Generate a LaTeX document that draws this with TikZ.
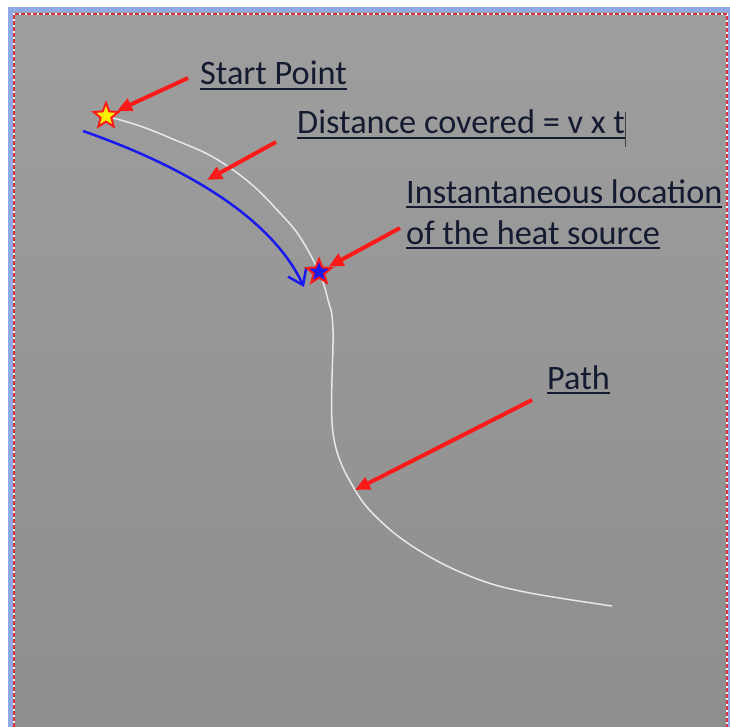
\documentclass[tikz,border=0pt]{standalone}
\usepackage{fontspec}
\setmainfont{Carlito}
\usetikzlibrary{arrows.meta, shapes.geometric}
\definecolor{cred}{HTML}{FF1A1A}
\definecolor{cblue}{HTML}{1A1AF0}
\definecolor{cframe}{HTML}{90A8E4}
\definecolor{cdot}{HTML}{E0303C}
\definecolor{bgtop}{HTML}{9E9E9E}
\definecolor{bgbot}{HTML}{8E8E8E}
\definecolor{ctext}{HTML}{141A30}
\definecolor{cyel}{HTML}{FFF000}
\definecolor{cpath}{HTML}{E8E8E8}

\newcommand{\ulbl}[1]{\setbox0\hbox{#1}\rlap{\rule[-5pt]{\wd0}{2pt}}\box0}

\tikzset{
  redarrow/.style={-{Triangle[length=15pt,width=13pt]}, cred, line width=4pt},
  lbl/.style={anchor=base west, inner sep=0pt, text=ctext, font=\fontsize{34.3}{41}\selectfont, align=left},
  srcstar/.style={star, star points=5, star point ratio=2.3, minimum size=26pt, inner sep=0pt, draw=cred, line width=2pt}
}

\begin{document}
\begin{tikzpicture}[x=1pt, y=-1pt]
  \useasboundingbox (0,0) rectangle (730,727);

  % Window frame and grey canvas
  \fill[white] (0,0) rectangle (730,727);
  \fill[cframe] (8,7) rectangle (730,727);
  \shade[top color=bgtop, bottom color=bgbot] (13,13) rectangle (728,727);
  \draw[white, line width=2pt] (14,727) -- (14,14) -- (727,14) -- (727,727);
  \draw[cdot, line width=2pt, dash pattern=on 4pt off 2pt] (14,727) -- (14,14) -- (727,14) -- (727,727);

  % Path of the heat source
  \draw[cpath, line width=1.5pt] plot[smooth, tension=0.6] coordinates {
    (106,116) (140,126) (175,140) (213,157) (250,183) (280,213) (300,237)
    (319,272) (328,300) (333,330) (333,433) (355,490) (387,527) (430,557)
    (480,580) (530,593) (612,606)};
  \coordinate (pathpt) at (355,490);

  % Distance covered
  \coordinate (arcstart) at (83,131);
  \coordinate (arcend) at (304,287);
  \coordinate (distpt) at (207,180);
  \draw[cblue, line width=2.5pt, -{Straight Barb[length=14pt,width=20pt]}]
    (arcstart) .. controls (180,165) and (270,215) .. (arcend);

  % Stars
  \node[srcstar, fill=cyel] (startstar) at (106,116) {};
  \node[srcstar, fill=cblue] (heatstar) at (319,272) {};

  % Labels
  \node[lbl] (startlbl) at (200,85) {\ulbl{Start Point}};
  \node[lbl] (distlbl) at (297,134) {\ulbl{Distance covered = v x t}\textcolor{darkgray}{\rule[-13pt]{1pt}{35pt}}};
  \node[lbl] (heatlbl) at (406,244) {\ulbl{Instantaneous location}\\\ulbl{of the heat source}};
  \node[lbl] (pathlbl) at (547,389) {\ulbl{Path}};

  % Red pointers
  \coordinate (starttail) at (188,78);
  \coordinate (disttail) at (276,142);
  \coordinate (heattail) at (400,228);
  \coordinate (pathtail) at (532,400);
  \draw[redarrow] (starttail) -- (startstar);
  \draw[redarrow] (disttail) -- (distpt);
  \draw[redarrow] (heattail) -- (heatstar);
  \draw[redarrow] (pathtail) -- (pathpt);
\end{tikzpicture}
\end{document}
